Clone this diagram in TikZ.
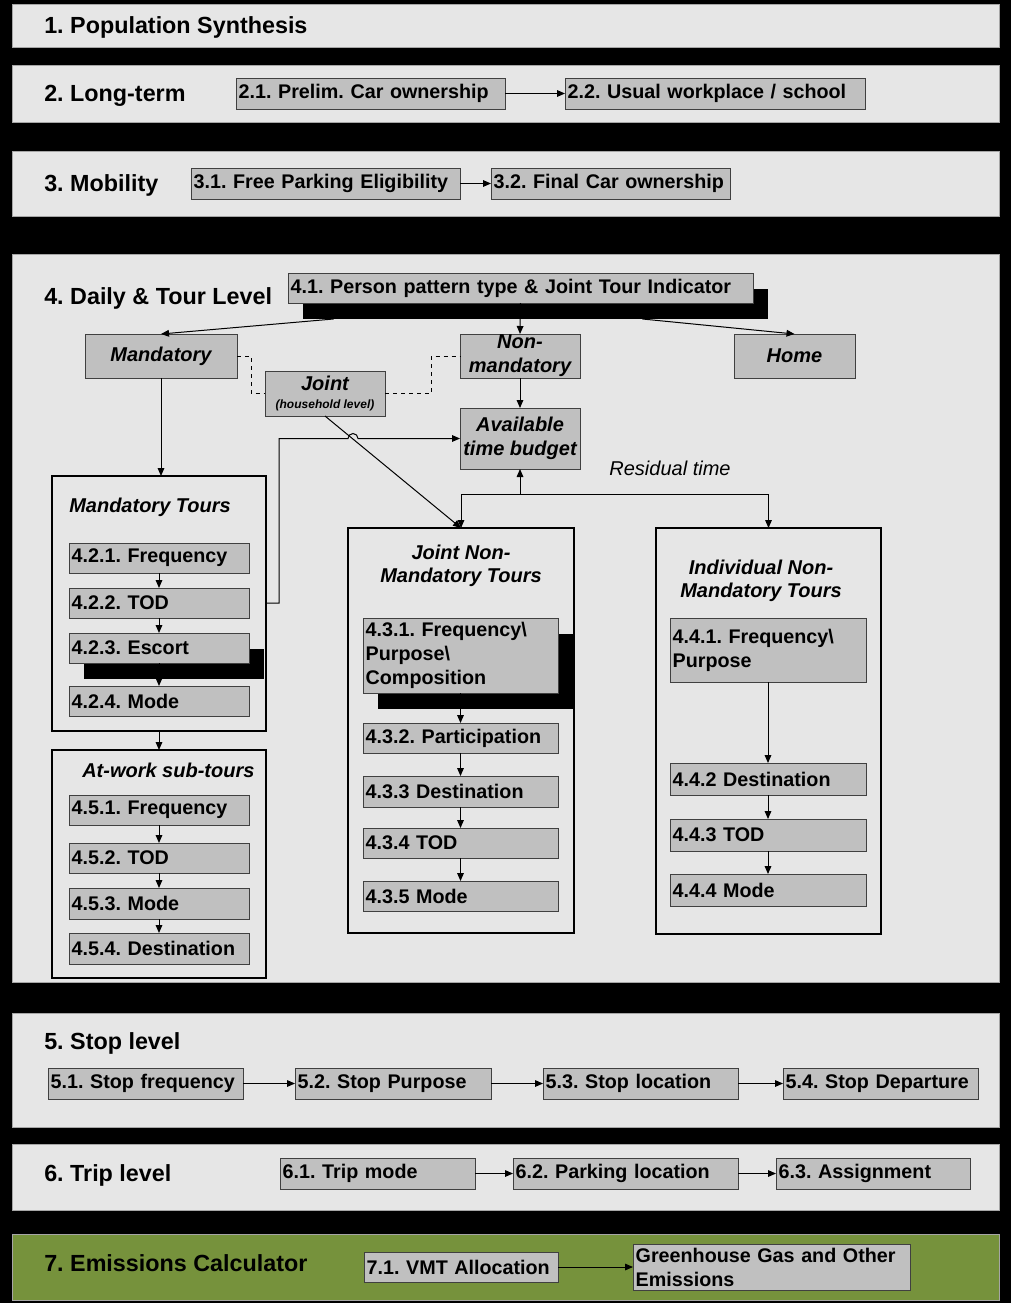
\documentclass[tikz,border=0pt]{standalone}
\usepackage{fontspec}
\setmainfont{Liberation Sans}
\usetikzlibrary{arrows.meta, positioning, calc, shadows}

\definecolor{panelgray}{RGB}{230,230,230}
\definecolor{boxgray}{RGB}{192,192,192}
\definecolor{boxline}{RGB}{64,64,64}
\definecolor{olivegreen}{RGB}{118,146,60}

\begin{document}
\frenchspacing
\begin{tikzpicture}[
  x=0.75pt, y=-0.75pt, % 1 unit = 1 px, y grows downward
  panel/.style={draw=gray!70, fill=panelgray, line width=0.75pt, outer sep=0pt, inner sep=0pt},
  greenpanel/.style={panel, fill=olivegreen},
  boxbase/.style={draw=boxline, fill=boxgray, line width=0.75pt, inner xsep=2pt, inner ysep=0pt,
                  outer sep=0pt, font=\fontsize{14.8}{18}\selectfont\bfseries\frenchspacing},
  procbox/.style={boxbase, text width=\tw pt, align=left},
  choicebox/.style={boxbase, inner xsep=0pt, align=center, font=\fontsize{15}{18}\selectfont\bfseries\itshape},
  groupbox/.style={draw=black, fill=panelgray, line width=1.5pt, outer sep=0pt, inner sep=0pt},
  shadowed/.style={drop shadow={shadow xshift=11.25pt, shadow yshift=-12pt, fill=black, opacity=1}},
  leveltitle/.style={anchor=base west, inner sep=0pt, font=\fontsize{17.5}{21}\selectfont\bfseries\frenchspacing},
  grouptitle/.style={inner sep=0pt, align=center, font=\fontsize{15}{17.25}\selectfont\bfseries\itshape},
  arr/.style={-{Triangle[length=6pt,width=5pt]}, line width=0.75pt}
]
  \newcommand{\procnode}[7]{% style, name, x1, y1, x2, y2, text
    \pgfmathsetmacro{\bw}{(#5-#3)*0.75}
    \pgfmathsetmacro{\bh}{(#6-#4)*0.75}
    \pgfmathsetmacro{\tw}{max(1,\bw-4)}
    \node[#1, minimum width=\bw pt, minimum height=\bh pt, anchor=north west] (#2) at (#3,#4) {#7};
  }

  % background
  \fill[black] (0,0) rectangle (1011,1303);
  \useasboundingbox (0,0) rectangle (1011,1303);

  % level panels
  \procnode{panel}{pan1}{12}{4}{999}{47}{}
  \procnode{panel}{pan2}{12}{65}{999}{122}{}
  \procnode{panel}{pan3}{12}{151}{999}{216}{}
  \procnode{panel}{pan4}{12}{254}{999}{982}{}
  \procnode{panel}{pan5}{12}{1013}{999}{1127}{}
  \procnode{panel}{pan6}{12}{1144}{999}{1210}{}
  \procnode{greenpanel}{pan7}{12}{1234}{999}{1300}{}

  \node[leveltitle] (t1) at (44,33) {1. Population Synthesis};
  \node[leveltitle] (t2) at (44,101) {2. Long-term};
  \node[leveltitle] (t3) at (44,191) {3. Mobility};
  \node[leveltitle] (t4) at (44,304) {4. Daily \& Tour Level};
  \node[leveltitle] (t5) at (44,1049) {5. Stop level};
  \node[leveltitle] (t6) at (44,1181) {6. Trip level};
  \node[leveltitle] (t7) at (44,1271) {7. Emissions Calculator};

  % 2. long-term / 3. mobility
  \procnode{procbox}{b21}{236}{78}{505}{109}{2.1. Prelim. Car ownership}
  \procnode{procbox}{b22}{565}{78}{865}{109}{2.2. Usual workplace / school}
  \procnode{procbox}{b31}{191}{168}{460}{199}{3.1. Free Parking Eligibility}
  \procnode{procbox}{b32}{491}{168}{730}{199}{3.2. Final Car ownership}
  \draw[arr] (b21.east) -- (b22.west);
  \draw[arr] (b31.east) -- (b32.west);

  % 4. daily & tour level
  \procnode{procbox, shadowed}{b41}{288}{273}{753}{303}{4.1. Person pattern type \& Joint Tour Indicator}
  \procnode{choicebox}{mand}{85}{334}{237}{378}{Mandatory}
  \procnode{choicebox}{nonmand}{460}{334}{580}{378}{Non-\\mandatory}
  \procnode{choicebox}{home}{734}{334}{855}{378}{Home}
  \procnode{choicebox}{joint}{265}{371}{385}{416}{Joint\\[-4pt]{\fontsize{9}{10}\selectfont(household level)}}
  \procnode{choicebox}{avail}{460}{408}{580}{469}{Available\\time budget}

  \draw[arr] ($(b41.south)+(-187,16)$) -- (mand.north);
  \draw[arr] (b41.south) -- (nonmand.north);
  \draw[arr] ($(b41.south)+(122,16)$) -- (home.north);
  \draw[arr] (nonmand.south) -- (avail.north);
  \draw[dashed, line width=0.75pt] (mand.east) -- ++(14,0) |- (joint.west);
  \draw[dashed, line width=0.75pt] (joint.east) -- ++(46,0) |- (nonmand.west);

  % tour groups
  \procnode{groupbox}{gMT}{52}{476}{266}{731}{}
  \procnode{groupbox}{gAW}{52}{750}{266}{978}{}
  \procnode{groupbox}{gJ}{348}{528}{574}{933}{}
  \procnode{groupbox}{gI}{656}{528}{881}{934}{}

  \node[grouptitle, anchor=base west] (tMT) at (69,512) {Mandatory Tours};
  \node[grouptitle, anchor=base west] (tAW) at (82,777) {At-work sub-tours};
  \node[grouptitle] (tJ) at (461,566) {Joint Non-\\Mandatory Tours};
  \node[grouptitle] (tI) at (761,581) {Individual Non-\\Mandatory Tours};

  \draw[arr] (mand.south) -- (mand.south |- gMT.north);
  \draw[arr] (joint.south) -- (gJ.north);
  \draw[arr] (gMT.east |- 0,603) -- ++(13,0) |- ($(avail.west)+(-112,0)$)
    arc[start angle=180, end angle=0, radius=3.75pt] -- (avail.west);

  % residual time
  \coordinate (split) at ($(avail.south)+(0,25)$);
  \draw[arr] (split) -- (avail.south);
  \draw[arr] (split) -| (gJ.north);
  \draw[arr] (split) -| (gI.north);
  \node[font=\fontsize{15}{18}\selectfont\itshape, inner sep=0pt] (resid) at (670,468) {Residual time};

  % mandatory tours
  \procnode{procbox}{b421}{69}{543}{249}{573}{4.2.1. Frequency}
  \procnode{procbox}{b422}{69}{588}{249}{618}{4.2.2. TOD}
  \procnode{procbox, shadowed}{b423}{69}{633}{249}{663}{4.2.3. Escort}
  \procnode{procbox}{b424}{69}{686}{249}{716}{4.2.4. Mode}
  \foreach \a/\b in {b421/b422, b422/b423, b423/b424} {
    \draw[arr] (\a.south) -- (\b.north);
  }
  \draw[arr] (gMT.south) -- (gAW.north);

  % at-work sub-tours
  \procnode{procbox}{b451}{69}{795}{249}{825}{4.5.1. Frequency}
  \procnode{procbox}{b452}{69}{843}{249}{873}{4.5.2. TOD}
  \procnode{procbox}{b453}{69}{888}{249}{919}{4.5.3. Mode}
  \procnode{procbox}{b454}{69}{933}{249}{964}{4.5.4. Destination}
  \foreach \a/\b in {b451/b452, b452/b453, b453/b454} {
    \draw[arr] (\a.south) -- (\b.north);
  }

  % joint non-mandatory tours
  \procnode{procbox, shadowed}{b431}{363}{618}{558}{693}{4.3.1. Frequency\textbackslash\\Purpose\textbackslash\\Composition}
  \procnode{procbox}{b432}{363}{723}{558}{753}{4.3.2. Participation}
  \procnode{procbox}{b433}{363}{776}{558}{807}{4.3.3 Destination}
  \procnode{procbox}{b434}{363}{828}{558}{858}{4.3.4 TOD}
  \procnode{procbox}{b435}{363}{881}{558}{911}{4.3.5 Mode}
  \foreach \a/\b in {b431/b432, b432/b433, b433/b434, b434/b435} {
    \draw[arr] (\a.south) -- (\b.north);
  }

  % individual non-mandatory tours
  \procnode{procbox}{b441}{670}{618}{866}{682}{4.4.1. Frequency\textbackslash\\Purpose}
  \procnode{procbox}{b442}{670}{763}{866}{795}{4.4.2 Destination}
  \procnode{procbox}{b443}{670}{819}{866}{851}{4.4.3 TOD}
  \procnode{procbox}{b444}{670}{874}{866}{906}{4.4.4 Mode}
  \foreach \a/\b in {b441/b442, b442/b443, b443/b444} {
    \draw[arr] (\a.south) -- (\b.north);
  }

  % 5. stop level
  \procnode{procbox}{b51}{48}{1068}{243}{1099}{5.1. Stop frequency}
  \procnode{procbox}{b52}{295}{1068}{491}{1099}{5.2. Stop Purpose}
  \procnode{procbox}{b53}{543}{1068}{738}{1099}{5.3. Stop location}
  \procnode{procbox}{b54}{783}{1068}{978}{1099}{5.4. Stop Departure}
  \foreach \a/\b in {b51/b52, b52/b53, b53/b54} {
    \draw[arr] (\a.east) -- (\b.west);
  }

  % 6. trip level
  \procnode{procbox}{b61}{280}{1158}{475}{1189}{6.1. Trip mode}
  \procnode{procbox}{b62}{513}{1158}{738}{1189}{6.2. Parking location}
  \procnode{procbox}{b63}{776}{1158}{970}{1189}{6.3. Assignment}
  \draw[arr] (b61.east) -- (b62.west);
  \draw[arr] (b62.east) -- (b63.west);

  % 7. emissions
  \procnode{procbox}{b71}{364}{1252}{558}{1282}{7.1. VMT Allocation}
  \procnode{procbox}{ghg}{633}{1244}{910}{1290}{Greenhouse Gas and Other\\Emissions}
  \draw[arr] (b71.east) -- (ghg.west);
\end{tikzpicture}
\end{document}
